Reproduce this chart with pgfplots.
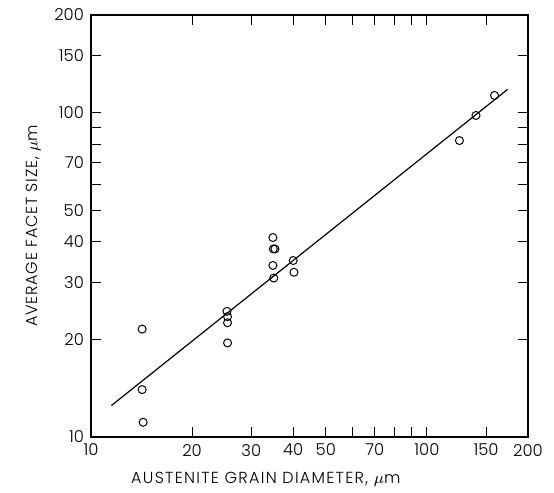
\documentclass[border=0pt]{standalone}
\usepackage{pgfplots}
\pgfplotsset{compat=1.18}
\usepackage{fontspec}
\IfFontExistsTF{Poppins Light}{\setmainfont{Poppins Light}}{\setmainfont{Poppins}}
\begin{document}
\begin{tikzpicture}
\begin{axis}[
  xmode=log, ymode=log,
  xmin=10, xmax=200, ymin=10, ymax=200,
  scale only axis, width=218.5pt, height=211pt,
  xtick={10,20,30,40,50,60,70,80,90,100,150,200},
  xticklabels={10,20,30,40,50,,70,,,100,150,200},
  ytick={10,20,30,40,50,60,70,80,90,100,150,200},
  yticklabels={10,20,30,40,50,,70,,,100,150,200},
  minor tick num=0,
  log ticks with fixed point,
  tick align=inside, major tick length=5pt,
  tick style={black, line width=0.5pt},
  axis line style={line width=0.7pt},
  /pgf/number format/assume math mode=true,
  ticklabel style={font=\fontsize{8.2}{9}\selectfont},
  xlabel={\addfontfeature{LetterSpace=8}AUSTENITE GRAIN DIAMETER, $\mu$m},
  ylabel={\addfontfeature{LetterSpace=5}AVERAGE FACET SIZE, $\mu$m},
  label style={font=\fontsize{8}{9}\selectfont},
  xlabel style={at={(ticklabel cs:0.4)}, anchor=north, yshift=-1pt},
  xticklabel style={yshift=0pt},
  clip=false,
]
\addplot[black, line width=0.6pt] coordinates {(11.5,12.5) (174,118)};
\addplot[only marks, mark=o, mark size=2pt, mark options={black, line width=0.5pt}] coordinates {
(14.2,21.5) (14.2,14.0) (14.3,11.1)
(25.4,24.4) (25.5,23.5) (25.5,22.5) (25.5,19.5)
(34.8,41.2) (34.9,38.0) (35.3,38.0) (34.8,33.8) (35.0,30.9)
(40.0,35.0) (40.2,32.2)
(125,82) (140,98) (159,113)
};
\end{axis}
\path (-45.5pt,-23pt) rectangle (231.5pt,218.5pt);
\end{tikzpicture}
\end{document}
